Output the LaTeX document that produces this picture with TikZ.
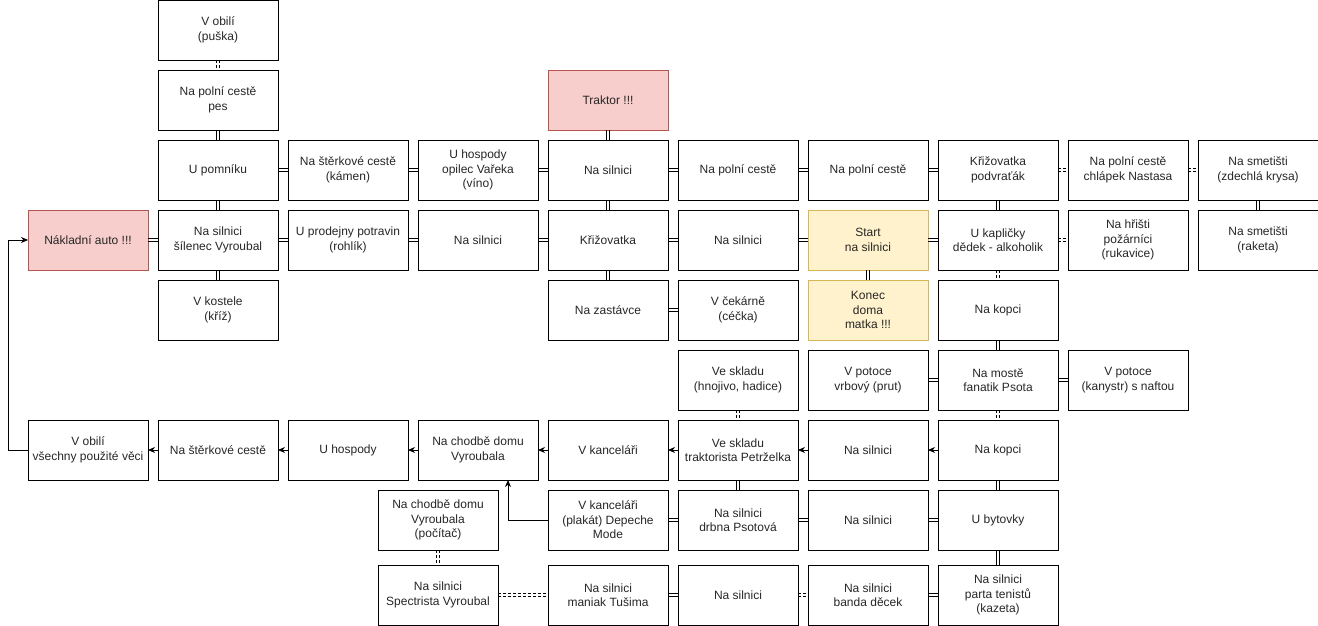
\documentclass[tikz,border=0pt]{standalone}
\usepackage{fontspec}
\setmainfont{Liberation Sans}
\usetikzlibrary{positioning,arrows.meta}

\definecolor{redfill}{HTML}{F8CECC}
\definecolor{redline}{HTML}{B85450}
\definecolor{yelfill}{HTML}{FFF2CC}
\definecolor{yelline}{HTML}{D6B656}

\tikzset{
  box/.style={draw, line width=0.75pt, minimum width=120pt, minimum height=60pt,
              inner sep=2pt, outer sep=0pt, align=center, text=black!85,
              font=\fontsize{12}{14.5}\selectfont},
  redbox/.style={box, draw=redline, fill=redfill},
  yelbox/.style={box, draw=yelline, fill=yelfill},
  link/.style={draw, line width=0.75pt},
  hl/.style={to path={([yshift=1.6pt]\tikztostart.east) -- ([yshift=1.6pt]\tikztotarget.west)
                      ([yshift=-1.6pt]\tikztostart.east) -- ([yshift=-1.6pt]\tikztotarget.west)}},
  vl/.style={to path={([xshift=1.6pt]\tikztostart.south) -- ([xshift=1.6pt]\tikztotarget.north)
                      ([xshift=-1.6pt]\tikztostart.south) -- ([xshift=-1.6pt]\tikztotarget.north)}},
  dashlink/.style={link, dash pattern=on 3pt off 2pt},
  flow/.style={draw, line width=0.75pt, -{Stealth[length=7pt,width=6pt]}}
}

\begin{document}
\begin{tikzpicture}[x=1pt, y=-1pt]
    \useasboundingbox (0,0) rectangle (1318,626);

    % upper part
    \node[redbox]  (naklad)     at (88,240)                  {Nákladní auto !!!};
    \node[box]     (silnice1)   [right=10pt of naklad]       {Na silnici\\šílenec Vyroubal};
    \node[box]     (pomnik)     [above=10pt of silnice1]     {U pomníku};
    \node[box]     (pes)        [above=10pt of pomnik]       {Na polní cestě\\pes};
    \node[box]     (obili)      [above=10pt of pes]          {V obilí\\(puška)};
    \node[box]     (kostel)     [below=10pt of silnice1]     {V kostele\\(kříž)};
    \node[box]     (sterk1)     [right=10pt of pomnik]       {Na štěrkové cestě\\(kámen)};
    \node[box]     (prodejna)   [right=10pt of silnice1]     {U prodejny potravin\\(rohlík)};
    \node[box]     (hospoda1)   [right=10pt of sterk1]       {U hospody\\opilec Vařeka\\(víno)};
    \node[box]     (silnice2)   [right=10pt of prodejna]     {Na silnici};
    \node[box]     (silnice3)   [right=10pt of hospoda1]     {Na silnici};
    \node[redbox]  (traktor)    [above=10pt of silnice3]     {Traktor !!!};
    \node[box]     (krizovatka) [right=10pt of silnice2]     {Křižovatka};
    \node[box]     (zastavka)   [below=10pt of krizovatka]   {Na zastávce};
    \node[box]     (polni2)     [right=10pt of silnice3]     {Na polní cestě};
    \node[box]     (silnice4)   [right=10pt of krizovatka]   {Na silnici};
    \node[box]     (cekarna)    [below=10pt of silnice4]     {V čekárně\\(céčka)};
    \node[box]     (polni3)     [right=10pt of polni2]       {Na polní cestě};
    \node[yelbox]  (start)      [right=10pt of silnice4]     {Start\\na silnici};
    \node[yelbox]  (konec)      [below=10pt of start]        {Konec\\doma\\matka !!!};
    \node[box]     (podvratak)  [right=10pt of polni3]       {Křižovatka\\podvraťák};
    \node[box]     (kaplicka)   [right=10pt of start]        {U kapličky\\dědek - alkoholik};
    \node[box]     (kopec1)     [below=10pt of kaplicka]     {Na kopci};
    \node[box]     (nastasa)    [right=10pt of podvratak]    {Na polní cestě\\chlápek Nastasa};
    \node[box]     (hriste)     [right=10pt of kaplicka]     {Na hřišti\\požárníci\\(rukavice)};
    \node[box]     (smetiste1)  [right=10pt of nastasa]      {Na smetišti\\(zdechlá krysa)};
    \node[box]     (smetiste2)  [below=10pt of smetiste1]    {Na smetišti\\(raketa)};

    % lower part
    \node[box]     (obili2)     at (88,450)                  {V obilí\\všechny použité věci};
    \node[box]     (sterk2)     [right=10pt of obili2]       {Na štěrkové cestě};
    \node[box]     (hospoda2)   [right=10pt of sterk2]       {U hospody};
    \node[box]     (chodba1)    [right=10pt of hospoda2]     {Na chodbě domu\\Vyroubala};
    \node[box]     (kancelar1)  [right=10pt of chodba1]      {V kanceláři};
    \node[box]     (sklad2)     [right=10pt of kancelar1]    {Ve skladu\\traktorista Petrželka};
    \node[box]     (silnice5)   [right=10pt of sklad2]       {Na silnici};
    \node[box]     (kopec2)     [right=10pt of silnice5]     {Na kopci};
    \node[box]     (sklad1)     [above=10pt of sklad2]       {Ve skladu\\(hnojivo, hadice)};
    \node[box]     (potoce1)    [above=10pt of silnice5]     {V potoce\\vrbový (prut)};
    \node[box]     (most)       [above=10pt of kopec2]       {Na mostě\\fanatik Psota};
    \node[box]     (potoce2)    [right=10pt of most]         {V potoce\\(kanystr) s naftou};
    \node[box]     (plakat)     [below=10pt of kancelar1]    {V kanceláři\\(plakát) Depeche\\Mode};
    \node[box]     (drbna)      [right=10pt of plakat]       {Na silnici\\drbna Psotová};
    \node[box]     (silnice6)   [right=10pt of drbna]        {Na silnici};
    \node[box]     (bytovka)    [right=10pt of silnice6]     {U bytovky};
    \node[box]     (chodba2)    [left=50pt of plakat]        {Na chodbě domu\\Vyroubala\\(počítač)};
    \node[box]     (spectrista) [below=15pt of chodba2]      {Na silnici\\Spectrista Vyroubal};
    \node[box]     (tusima)     [below=15pt of plakat]       {Na silnici\\maniak Tušima};
    \node[box]     (silnice7)   [right=10pt of tusima]       {Na silnici};
    \node[box]     (decka)      [right=10pt of silnice7]     {Na silnici\\banda děcek};
    \node[box]     (tenis)      [right=10pt of decka]        {Na silnici\\parta tenistů\\(kazeta)};

    % links side by side
    \path[link] (naklad)     edge[hl] (silnice1)
                (pomnik)     edge[hl] (sterk1)
                (sterk1)     edge[hl] (hospoda1)
                (hospoda1)   edge[hl] (silnice3)
                (silnice3)   edge[hl] (polni2)
                (polni2)     edge[hl] (polni3)
                (polni3)     edge[hl] (podvratak)
                (silnice1)   edge[hl] (prodejna)
                (prodejna)   edge[hl] (silnice2)
                (silnice2)   edge[hl] (krizovatka)
                (krizovatka) edge[hl] (silnice4)
                (silnice4)   edge[hl] (start)
                (start)      edge[hl] (kaplicka)
                (zastavka)   edge[hl] (cekarna)
                (potoce1)    edge[hl] (most)
                (most)       edge[hl] (potoce2)
                (plakat)     edge[hl] (drbna)
                (drbna)      edge[hl] (silnice6)
                (silnice6)   edge[hl] (bytovka)
                (tusima)     edge[hl] (silnice7)
                (decka)      edge[hl] (tenis);

    % links one above the other
    \path[link] (pes)        edge[vl] (pomnik)
                (pomnik)     edge[vl] (silnice1)
                (silnice1)   edge[vl] (kostel)
                (traktor)    edge[vl] (silnice3)
                (silnice3)   edge[vl] (krizovatka)
                (krizovatka) edge[vl] (zastavka)
                (start)      edge[vl] (konec)
                (podvratak)  edge[vl] (kaplicka)
                (smetiste1)  edge[vl] (smetiste2)
                (kopec1)     edge[vl] (most)
                (sklad2)     edge[vl] (drbna)
                (kopec2)     edge[vl] (bytovka)
                (bytovka)    edge[vl] (tenis);

    % dashed links
    \path[dashlink] (obili)      edge[vl] (pes)
                    (kaplicka)   edge[vl] (kopec1)
                    (most)       edge[vl] (kopec2)
                    (sklad1)     edge[vl] (sklad2)
                    (chodba2)    edge[vl] (spectrista)
                    (podvratak)  edge[hl] (nastasa)
                    (nastasa)    edge[hl] (smetiste1)
                    (kaplicka)   edge[hl] (hriste)
                    (spectrista) edge[hl] (tusima)
                    (silnice7)   edge[hl] (decka);

    % way back
    \path[flow] (kopec2)    edge (silnice5)
                (silnice5)  edge (sklad2)
                (sklad2)    edge (kancelar1)
                (kancelar1) edge (chodba1)
                (chodba1)   edge (hospoda2)
                (hospoda2)  edge (sterk2)
                (sterk2)    edge (obili2);
    \draw[flow] (obili2.west) -- ++(-20,0) |- (naklad.west);
    \draw[flow] (plakat.west) -| ([xshift=30pt]chodba1.south);
\end{tikzpicture}
\end{document}
